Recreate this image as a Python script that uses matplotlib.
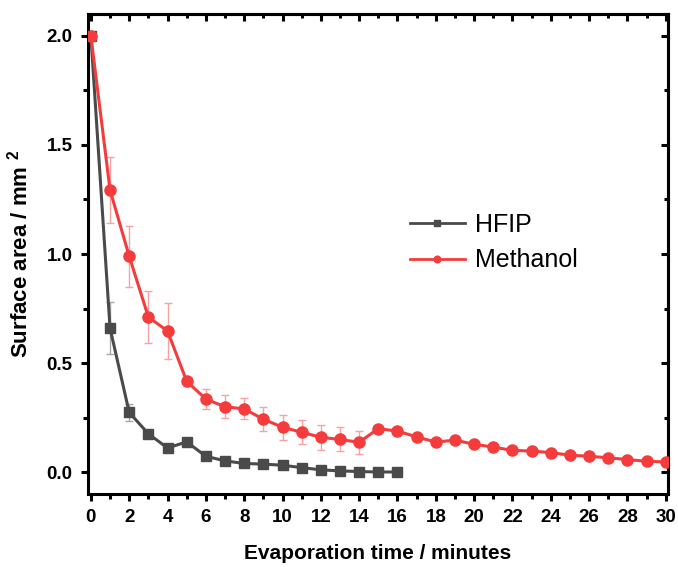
import matplotlib
matplotlib.use("Agg")
import matplotlib.pyplot as plt
from matplotlib.ticker import MultipleLocator

plt.rcParams['font.family'] = ['Liberation Sans', 'DejaVu Sans']
plt.rcParams['mathtext.fontset'] = 'custom'
plt.rcParams['mathtext.rm'] = 'Liberation Sans:bold'
plt.rcParams['mathtext.bf'] = 'Liberation Sans:bold'

hfip_x = list(range(0, 17))
hfip_y = [2.0, 0.66, 0.274, 0.176, 0.111, 0.139, 0.073, 0.052, 0.040, 0.037,
          0.032, 0.021, 0.011, 0.006, 0.003, 0.001, 0.001]
hfip_err = [0.0, 0.12, 0.04, 0.012, 0.01, 0.01, 0.008, 0.006, 0.005, 0.005,
            0.004, 0.004, 0.003, 0.003, 0.002, 0.002, 0.002]

meth_x = list(range(0, 31))
meth_y = [2.0, 1.293, 0.99, 0.711, 0.647, 0.417, 0.335, 0.30, 0.29, 0.243,
          0.206, 0.183, 0.16, 0.15, 0.137, 0.20, 0.188, 0.162, 0.138, 0.147,
          0.128, 0.115, 0.10, 0.097, 0.090, 0.078, 0.073, 0.066, 0.058, 0.050,
          0.047]
meth_err = [0.0, 0.153, 0.14, 0.12, 0.128, 0.02, 0.047, 0.053, 0.048, 0.054,
            0.057, 0.055, 0.056, 0.055, 0.052] + [0.0] * 16

fig = plt.figure(figsize=(6.78, 5.67), dpi=100)
ax = fig.add_axes([0.1298, 0.1287, 0.8550, 0.8466])

gray = '#4a4a4a'
red = '#f43c3c'

ax.errorbar(hfip_x, hfip_y, yerr=hfip_err, fmt='none', ecolor='#a8a8a8',
            elinewidth=1.0, capsize=3, capthick=1.0, zorder=2)
ax.errorbar(meth_x, meth_y, yerr=meth_err, fmt='none', ecolor='#f7a3a3',
            elinewidth=1.0, capsize=3, capthick=1.0, zorder=2)
ax.plot(hfip_x, hfip_y, color=gray, lw=2.2, marker='s', ms=7.5,
        label='HFIP', zorder=3)
ax.plot(meth_x, meth_y, color=red, lw=2.2, marker='o', ms=8,
        label='Methanol', zorder=4)

ax.set_xlim(-0.15, 30.1)
ax.set_ylim(-0.1, 2.1)
ax.xaxis.set_major_locator(MultipleLocator(2))
ax.xaxis.set_minor_locator(MultipleLocator(1))
ax.yaxis.set_major_locator(MultipleLocator(0.5))
ax.yaxis.set_minor_locator(MultipleLocator(0.25))

for s in ax.spines.values():
    s.set_linewidth(2.2)

ax.tick_params(axis='both', which='major', length=5, width=2.2,
               labelsize=13.5, direction='out', pad=6)
ax.tick_params(axis='both', which='minor', length=3.5, width=2.2,
               direction='out')
for t in ax.get_xticklabels() + ax.get_yticklabels():
    t.set_fontweight('bold')

# top/right inward ticks via secondary axes
sx = ax.secondary_xaxis('top')
sx.xaxis.set_major_locator(MultipleLocator(2))
sx.xaxis.set_minor_locator(MultipleLocator(1))
sx.tick_params(which='major', direction='in', length=5, width=2.2, labeltop=False)
sx.tick_params(which='minor', direction='in', length=3, width=2.2)
sx.spines['top'].set_linewidth(2.2)
sy = ax.secondary_yaxis('right')
sy.yaxis.set_major_locator(MultipleLocator(0.5))
sy.yaxis.set_minor_locator(MultipleLocator(0.25))
sy.tick_params(which='major', direction='in', length=5, width=2.2, labelright=False)
sy.tick_params(which='minor', direction='in', length=3, width=2.2)
sy.spines['right'].set_linewidth(2.2)

ax.set_xlabel('Evaporation time / minutes', fontsize=15, fontweight='bold',
              labelpad=13)
ax.set_ylabel(r'Surface area / mm $^{2}$', fontsize=16, fontweight='bold',
              labelpad=10)

leg = ax.legend(loc='upper left', bbox_to_anchor=(0.516, 0.632), frameon=False,
                fontsize=18, handlelength=2.2, handletextpad=0.4,
                labelspacing=0.45, markerscale=0.6)
for h in leg.legend_handles:
    h.set_linewidth(2.0)

fig.savefig('out.png', dpi=100)
